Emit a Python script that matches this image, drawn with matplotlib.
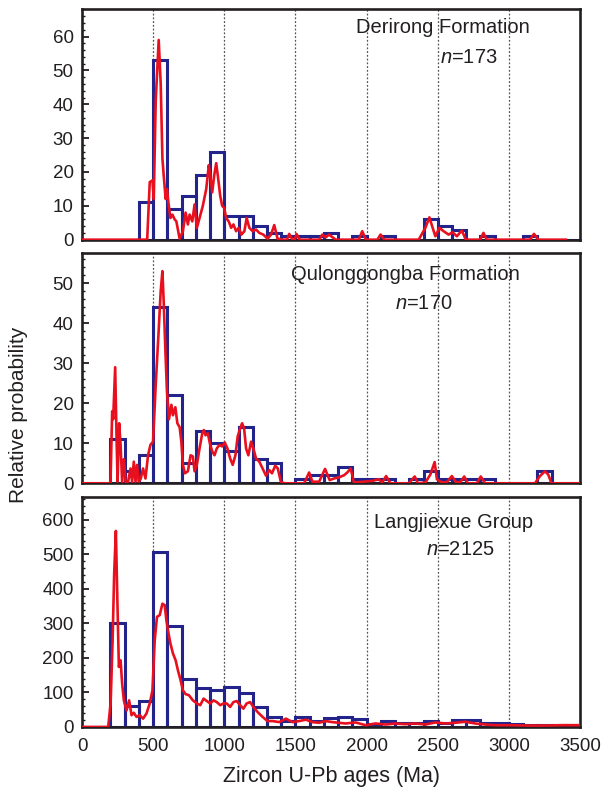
import matplotlib.pyplot as plt
import numpy as np

plt.rcParams['font.family'] = ['Liberation Sans', 'DejaVu Sans']
plt.rcParams['mathtext.fontset'] = 'custom'
plt.rcParams['mathtext.rm'] = 'Liberation Sans'
plt.rcParams['mathtext.it'] = 'Liberation Sans:italic'

# histogram bins, 100 Ma wide
bin_edges = list(range(0, 3600, 100))

derirong_bars = [0, 0, 0, 0, 11, 53, 9, 13, 19, 26, 7, 7, 4, 2, 1, 1, 1, 2,
                 0, 1, 0, 1, 0, 0, 6, 4, 3, 0, 1, 0, 0, 1, 0, 0, 0]
qulong_bars = [0, 0, 11, 3, 7, 44, 22, 5, 13, 10, 8, 14, 6, 5, 0, 1, 2, 2,
               4, 1, 1, 1, 0, 1, 3, 1, 1, 1, 1, 0, 0, 0, 3, 0, 0]
langji_bars = [0, 0, 300, 60, 75, 507, 292, 140, 113, 106, 116, 97, 59, 30,
               18, 30, 18, 27, 30, 23, 9, 18, 12, 12, 17, 11, 20, 20, 11, 11,
               9, 7, 7, 7, 7]

# probability density curves (age Ma, value)
derirong_pdp = [
    (0, 0), (458, 0), (476, 17), (495, 17.5), (504, 12), (518, 41), (539, 59),
    (553, 46), (565, 24), (574, 19), (588, 12), (597, 15), (607, 11),
    (621, 6.4), (635, 7.4), (651, 6), (663, 5.4), (686, 0.3), (709, 2.5),
    (728, 8), (744, 4.5), (756, 7.4), (775, 5.4), (791, 10.4), (807, 3.5),
    (826, 6.4), (849, 10), (873, 15), (891, 22), (901, 19), (915, 14),
    (929, 19), (943, 22.6), (957, 18), (971, 13), (985, 10), (999, 9.4),
    (1013, 6.4), (1031, 5.4), (1048, 3.5), (1064, 4.5), (1083, 2.5),
    (1101, 3.5), (1120, 1.5), (1141, 2.5), (1157, 6.4), (1176, 3.5),
    (1199, 2.5), (1223, 3), (1246, 2), (1274, 1.5), (1304, 0.3), (1328, 1.5),
    (1351, 4.3), (1374, 0.3), (1409, 0), (1440, 0), (1456, 1.7), (1479, 0),
    (1495, 0), (1507, 1.7), (1530, 0), (1666, 0), (1689, 1.5), (1713, 0.7),
    (1736, 1.5), (1783, 0), (1945, 0), (1969, 2.5), (1995, 0), (2075, 0),
    (2098, 1.5), (2125, 0), (2366, 0), (2413, 3.5), (2441, 6.6), (2464, 3.5),
    (2483, 1), (2511, 3.5), (2541, 2.5), (2576, 1.5), (2604, 2.2), (2634, 1),
    (2669, 2.7), (2697, 0), (2798, 0), (2821, 2), (2844, 0), (3148, 0),
    (3176, 1.7), (3206, 0), (3400, 0)]

qulong_pdp = [
    (0, 0), (200, 0), (212, 18), (219, 16), (233, 29), (243, 11), (250, 0.4),
    (261, 15), (271, 9.6), (282, 0.4), (294, 6), (306, 0.4), (324, 0.4),
    (341, 3.7), (352, 0.4), (364, 5.4), (376, 0.4), (387, 4.6), (399, 0.4),
    (413, 1.2), (429, 3.7), (446, 1.2), (464, 7), (481, 9.6), (499, 10.4),
    (518, 24.6), (537, 37), (553, 48), (565, 53), (574, 45.4), (586, 33),
    (597, 23), (611, 16), (628, 19.6), (639, 17), (656, 19), (670, 15),
    (686, 14), (698, 10.4), (709, 4.6), (723, 2.5), (744, 3), (763, 7),
    (779, 6.7), (791, 3), (807, 4.6), (826, 8.7), (845, 12.5), (856, 13.3),
    (868, 12), (884, 12.5), (901, 9.6), (915, 8), (931, 7), (947, 8.7),
    (966, 9.6), (985, 9.2), (1003, 10.2), (1022, 8.7), (1041, 6.2),
    (1059, 4.6), (1078, 7), (1094, 11.7), (1111, 13.7), (1125, 15),
    (1139, 13.7), (1153, 8.7), (1169, 7), (1188, 10.4), (1204, 8.7),
    (1223, 6.2), (1246, 5.4), (1269, 3.7), (1293, 1.9), (1316, 3.3),
    (1335, 2.5), (1358, 4.4), (1376, 3.7), (1397, 0.4), (1421, 0), (1561, 0),
    (1596, 2.7), (1619, 0.4), (1666, 0.4), (1708, 3.6), (1740, 0.8),
    (1771, 1.2), (1806, 1.5), (1841, 2), (1864, 2.7), (1888, 3.7), (1911, 0.2),
    (1946, 0.3), (2039, 0.6), (2086, 1), (2109, 0.2), (2137, 1.8), (2168, 0),
    (2296, 0), (2338, 1.7), (2361, 0), (2413, 0.2), (2448, 2.2), (2478, 5.3),
    (2494, 1), (2529, 0.2), (2564, 0.3), (2599, 1.8), (2630, 0.2), (2658, 0.3),
    (2686, 1.7), (2711, 0), (2774, 0), (2802, 1.7), (2833, 0), (3183, 0),
    (3218, 1.8), (3253, 3), (3276, 2.2), (3299, 0), (3500, 0)]

langji_pdp = [
    (0, 0), (184, 0), (201, 68), (215, 251), (226, 444), (238, 568),
    (247, 396), (259, 174), (271, 193), (282, 126), (294, 77), (313, 48),
    (331, 77), (348, 34), (364, 41), (383, 29), (406, 34), (429, 24),
    (453, 39), (476, 68), (495, 106), (511, 251), (527, 319), (546, 324),
    (565, 357), (581, 353), (593, 309), (604, 280), (621, 242), (639, 213),
    (658, 193), (674, 164), (693, 135), (709, 106), (728, 95), (751, 92),
    (779, 77), (807, 68), (831, 63), (854, 82), (877, 75), (901, 68),
    (924, 77), (947, 72), (971, 63), (994, 68), (1017, 68), (1041, 58),
    (1064, 72), (1087, 75), (1111, 63), (1134, 53), (1157, 68), (1181, 72),
    (1204, 58), (1234, 43), (1269, 29), (1304, 17), (1339, 17), (1386, 14),
    (1433, 24), (1479, 14), (1526, 17), (1573, 21), (1619, 14), (1666, 12),
    (1713, 17), (1759, 14), (1806, 12), (1853, 10), (1923, 13), (1993, 5),
    (2063, 10), (2133, 7), (2203, 10), (2273, 8), (2343, 10), (2413, 7),
    (2483, 13), (2553, 10), (2623, 12), (2693, 15), (2763, 10), (2833, 7),
    (2903, 5), (3019, 5), (3136, 4), (3253, 4), (3369, 5), (3490, 5)]

labels = ['Derirong Formation', 'Qulonggongba Formation', 'Langjiexue Group']
counts = ['$n$=173', '$n$=170', '$n$=2125']
ymax = [68, 57.5, 667]
yticks = [range(0, 61, 10), range(0, 51, 10), range(0, 601, 100)]
yminor = [2, 2, 20]
label_pos = [(0.725, 0.92), (0.649, 0.909), (0.746, 0.888)]
count_pos = [(0.776, 0.79), (0.687, 0.783), (0.76, 0.77)]

navy = '#23238c'
red = '#e8101e'
ink = '#231f20'

fig = plt.figure(figsize=(6.03, 7.91), dpi=100)
axes = [fig.add_axes([0.136, 0.697, 0.826, 0.291]),
        fig.add_axes([0.136, 0.389, 0.826, 0.291]),
        fig.add_axes([0.136, 0.081, 0.826, 0.291])]

bars = [derirong_bars, qulong_bars, langji_bars]
pdps = [derirong_pdp, qulong_pdp, langji_pdp]

for i, ax in enumerate(axes):
    for g in range(500, 3001, 500):
        ax.axvline(g, color='#555555', lw=0.9, ls=(0, (1.5, 1.5)), zorder=0)
    ax.bar(bin_edges[:-1], bars[i], width=100, align='edge', fill=False,
           edgecolor=navy, linewidth=2.2, zorder=2)
    age, val = np.array(pdps[i]).T
    ax.plot(age, val, color=red, lw=1.9, zorder=3)
    ax.set_xlim(0, 3500)
    ax.set_ylim(0, ymax[i])
    ax.set_yticks(list(yticks[i]))
    ax.set_yticks(np.arange(0, ymax[i], yminor[i]), minor=True)
    ax.tick_params(axis='y', which='major', direction='in', length=5,
                   width=1.3, labelsize=13.5, colors=ink, pad=6)
    ax.tick_params(axis='y', which='minor', direction='in', length=2.5,
                   width=1.0, colors=ink)
    ax.tick_params(axis='x', length=0, labelsize=13.5, colors=ink, pad=8)
    ax.set_xticks(range(0, 3501, 500))
    if i < 2:
        ax.set_xticklabels([])
    for s in ax.spines.values():
        s.set_linewidth(1.9)
        s.set_color(ink)
    ax.text(label_pos[i][0], label_pos[i][1], labels[i], transform=ax.transAxes,
            ha='center', va='center', fontsize=14.5, color=ink)
    ax.text(count_pos[i][0], count_pos[i][1], counts[i], transform=ax.transAxes,
            ha='center', va='center', fontsize=14.5, color=ink)

axes[2].set_xlabel('Zircon U-Pb ages (Ma)', fontsize=15.5, color=ink, labelpad=8)
fig.text(0.03, 1 - 415 / 791, 'Relative probability', rotation=90,
         ha='center', va='center', fontsize=15, color=ink)

plt.savefig('out.png', dpi=100)
